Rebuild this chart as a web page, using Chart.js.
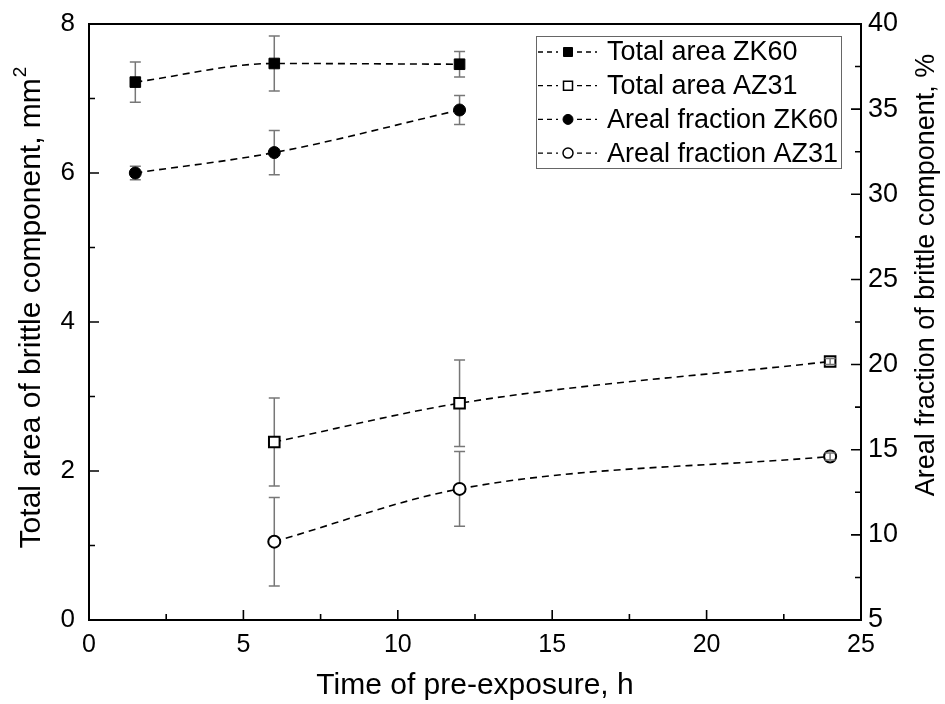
<!DOCTYPE html>
<html lang="en">
<head>
<meta charset="UTF-8">
<title>Brittle component vs pre-exposure time</title>
<script src="https://cdn.jsdelivr.net/npm/chart.js"></script>
<style>
  html, body { margin: 0; padding: 0; background: #fff; }
</style>
</head>
<body>
<canvas id="chart" width="945" height="704"></canvas>
<script>
// pre-exposure time, h
const timeZK60 = [1.5, 6, 12];
const timeAZ31 = [6, 12, 24];

// total area of brittle component, mm2 (left axis)
const areaZK60 = [7.22, 7.47, 7.46];
const areaZK60Err = [0.27, 0.37, 0.17];
const areaAZ31 = [2.39, 2.91, 3.47];
const areaAZ31Err = [0.59, 0.58, 0.04];

// areal fraction of brittle component, % (right axis)
const fracZK60 = [31.25, 32.45, 34.95];
const fracZK60Err = [0.4, 1.3, 0.85];
const fracAZ31 = [9.6, 12.7, 14.6];
const fracAZ31Err = [2.6, 2.2, 0.2];

const seriesNames = ['Total area ZK60', 'Total area AZ31', 'Areal fraction ZK60', 'Areal fraction AZ31'];

const FONT = "'Liberation Sans', Arial, sans-serif";

function pts(xs, ys) {
    return xs.map((x, i) => ({ x: x, y: ys[i] }));
}

function series(label, xs, ys, errs, axis, style, filled) {
    return {
        label: label,
        data: pts(xs, ys),
        errors: errs,
        yAxisID: axis,
        borderColor: '#000',
        borderWidth: 1.6,
        borderDash: [7, 5],
        cubicInterpolationMode: 'monotone',
        pointStyle: style,
        pointRadius: style === 'rect' ? 7.5 : 6,
        pointBorderWidth: filled ? 1 : 2,
        pointBackgroundColor: filled ? '#000' : '#fff',
        pointBorderColor: '#000'
    };
}

function drawBars(chart, onTop) {
    const ctx = chart.ctx;
    ctx.save();
    ctx.strokeStyle = '#777';
    ctx.lineWidth = 1.5;
    chart.data.datasets.forEach(ds => {
        const ys = chart.scales[ds.yAxisID];
        const xs = chart.scales.x;
        ds.data.forEach((p, i) => {
            const e = ds.errors[i];
            const px = xs.getPixelForValue(p.x);
            const top = ys.getPixelForValue(p.y + e);
            const bot = ys.getPixelForValue(p.y - e);
            // bars shorter than the marker stay visible on top of it
            const small = (bot - top) / 2 < ds.pointRadius;
            if (small !== onTop) return;
            ctx.beginPath();
            ctx.moveTo(px, top); ctx.lineTo(px, bot);
            ctx.moveTo(px - 5.5, top); ctx.lineTo(px + 5.5, top);
            ctx.moveTo(px - 5.5, bot); ctx.lineTo(px + 5.5, bot);
            ctx.stroke();
        });
    });
    ctx.restore();
}

const errorBars = {
    id: 'errorBars',
    beforeDatasetsDraw(chart) { drawBars(chart, false); },
    afterDatasetsDraw(chart) { drawBars(chart, true); }
};

// inward ticks, top frame line, y-axis titles and boxed legend
const frame = {
    id: 'frame',
    afterDraw(chart) {
        const ctx = chart.ctx;
        const a = chart.chartArea;
        ctx.save();
        ctx.strokeStyle = '#000';
        ctx.lineWidth = 2;
        ctx.beginPath();
        ctx.moveTo(a.left - 1, a.top); ctx.lineTo(a.right + 1, a.top);
        ctx.stroke();

        function tickMarks(scale, draw) {
            const vals = scale.ticks.map(t => t.value);
            vals.forEach((v, i) => {
                draw(scale.getPixelForValue(v), 10);
                if (i < vals.length - 1) draw(scale.getPixelForValue((v + vals[i + 1]) / 2), 6);
            });
        }
        ctx.lineWidth = 1.6;
        ctx.beginPath();
        tickMarks(chart.scales.x, (p, len) => { ctx.moveTo(p, a.bottom); ctx.lineTo(p, a.bottom - len); });
        tickMarks(chart.scales.y, (p, len) => { ctx.moveTo(a.left, p); ctx.lineTo(a.left + len, p); });
        tickMarks(chart.scales.y2, (p, len) => { ctx.moveTo(a.right, p); ctx.lineTo(a.right - len, p); });
        ctx.stroke();

        // y titles, both reading bottom to top
        ctx.fillStyle = '#000';
        ctx.textBaseline = 'middle';
        ctx.save();
        ctx.translate(31, 308);
        ctx.rotate(-Math.PI / 2);
        const main = 'Total area of brittle component, mm';
        ctx.font = '30px ' + FONT;
        const w1 = ctx.measureText(main).width;
        ctx.font = '19px ' + FONT;
        const w2 = ctx.measureText('2').width;
        const x0 = -(w1 + w2) / 2;
        ctx.font = '30px ' + FONT;
        ctx.textAlign = 'left';
        ctx.fillText(main, x0, 1);
        ctx.font = '19px ' + FONT;
        ctx.fillText('2', x0 + w1 + 1, -10);
        ctx.restore();

        ctx.save();
        ctx.translate(926, 275);
        ctx.rotate(-Math.PI / 2);
        ctx.font = '27px ' + FONT;
        ctx.textAlign = 'center';
        ctx.fillText('Areal fraction of brittle component, %', 0, 1);
        ctx.restore();

        // legend
        const bx = 536, by = 36, bw = 305, bh = 132, rowH = 33.7;
        ctx.lineWidth = 1;
        ctx.strokeStyle = '#666';
        ctx.strokeRect(bx + 0.5, by + 0.5, bw, bh);
        ctx.font = '27px ' + FONT;
        ctx.textAlign = 'left';
        chart.data.datasets.forEach((ds, i) => {
            const cy = by + 16 + i * rowH;
            ctx.save();
            ctx.strokeStyle = '#000';
            ctx.lineWidth = 1.3;
            ctx.setLineDash([5, 4]);
            ctx.beginPath();
            ctx.moveTo(bx + 2, cy); ctx.lineTo(bx + 22, cy);
            ctx.moveTo(bx + 41, cy); ctx.lineTo(bx + 61, cy);
            ctx.stroke();
            ctx.setLineDash([]);
            ctx.fillStyle = ds.pointBackgroundColor;
            ctx.lineWidth = ds.pointBorderWidth === 1 ? 1 : 1.5;
            ctx.beginPath();
            if (ds.pointStyle === 'rect') ctx.rect(bx + 27.5, cy - 4.5, 9, 9);
            else ctx.arc(bx + 32, cy, 5, 0, Math.PI * 2);
            ctx.fill();
            ctx.stroke();
            ctx.restore();
            ctx.fillText(ds.label, bx + 71, cy + 1);
        });
        ctx.restore();
    }
};

function noPadY(s, w) {
    s.width = w;
    s.paddingTop = 0;
    s.paddingBottom = 0;
}

new Chart(document.getElementById('chart'), {
    type: 'line',
    data: {
        datasets: [
            series(seriesNames[0], timeZK60, areaZK60, areaZK60Err, 'y', 'rect', true),
            series(seriesNames[1], timeAZ31, areaAZ31, areaAZ31Err, 'y', 'rect', false),
            series(seriesNames[2], timeZK60, fracZK60, fracZK60Err, 'y2', 'circle', true),
            series(seriesNames[3], timeAZ31, fracAZ31, fracAZ31Err, 'y2', 'circle', false)
        ]
    },
    options: {
        responsive: false,
        animation: false,
        devicePixelRatio: 1,
        layout: { padding: { top: 24, right: 0, left: 0, bottom: 0 } },
        plugins: { legend: { display: false }, tooltip: { enabled: false } },
        scales: {
            x: {
                type: 'linear', min: 0, max: 25,
                ticks: { stepSize: 5, color: '#000', font: { family: FONT, size: 25 }, padding: 10, maxRotation: 0 },
                grid: { display: false, drawTicks: false },
                border: { display: true, color: '#000', width: 2 },
                title: { display: true, text: 'Time of pre-exposure, h', color: '#000', font: { family: FONT, size: 30 }, padding: { top: 0, bottom: 0 } },
                afterFit(s) { s.height = 84; s.paddingLeft = 0; s.paddingRight = 0; }
            },
            y: {
                position: 'left', min: 0, max: 8,
                ticks: { stepSize: 2, color: '#000', font: { family: FONT, size: 26 }, padding: 14 },
                grid: { display: false, drawTicks: false },
                border: { display: true, color: '#000', width: 2 },
                afterFit(s) { noPadY(s, 89); }
            },
            y2: {
                position: 'right', min: 5, max: 40,
                ticks: { stepSize: 5, color: '#000', font: { family: FONT, size: 27 }, padding: 7 },
                grid: { display: false, drawTicks: false },
                border: { display: true, color: '#000', width: 2 },
                afterFit(s) { noPadY(s, 84); }
            }
        }
    },
    plugins: [errorBars, frame]
});
</script>
</body>
</html>
